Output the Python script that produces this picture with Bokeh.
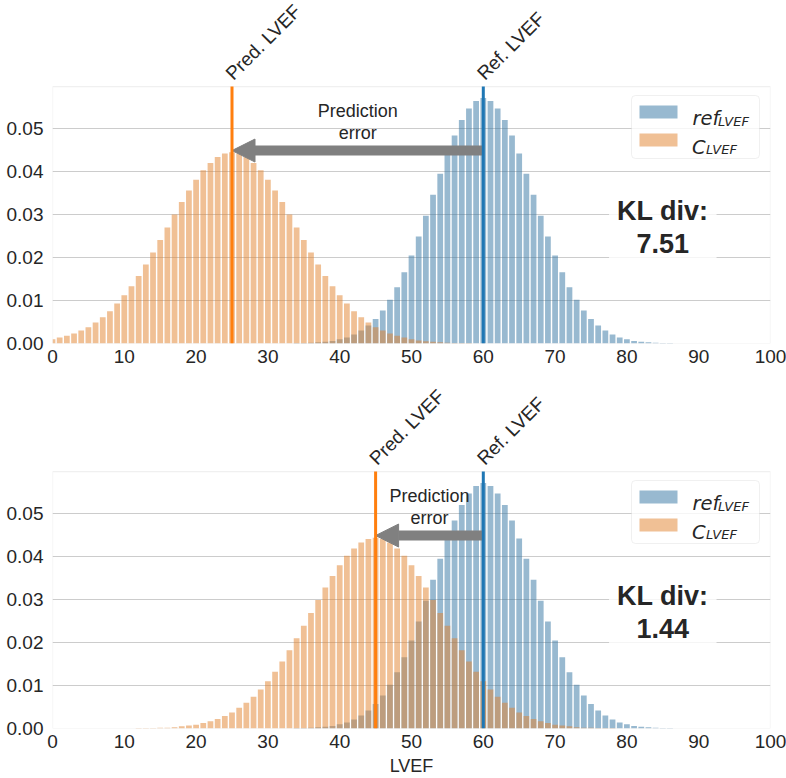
from bokeh.plotting import figure
from bokeh.models import (Range1d, FixedTicker, Arrow, NormalHead, Label,
                          BoxAnnotation, PrintfTickFormatter)
from bokeh.layouts import column
from bokeh.embed import file_html
from bokeh.resources import INLINE

FONT = "Liberation Sans"
MATH_FONT = "DejaVu Sans"
TEXT = "#262626"

# ---------------- data ----------------
lvef = list(range(0, 101))

ref_dist = [0.0] * 34 + [
    0.0001, 0.0001, 0.0002, 0.0003, 0.0004, 0.0006, 0.0010, 0.0014, 0.0021, 0.0030,
    0.0042, 0.0057, 0.0077, 0.0102, 0.0131, 0.0166, 0.0205, 0.0249, 0.0297, 0.0346,
    0.0395, 0.0442, 0.0484, 0.0520, 0.0547, 0.0564, 0.0571,
    0.0564, 0.0547, 0.0520, 0.0484, 0.0442, 0.0395, 0.0346, 0.0297, 0.0249, 0.0205,
    0.0166, 0.0131, 0.0102, 0.0077, 0.0057, 0.0042, 0.0030, 0.0021, 0.0014, 0.0010,
    0.0006, 0.0004, 0.0003, 0.0002, 0.0001, 0.0001,
] + [0.0] * 14

pred_dist_top = [
    0.0010, 0.0014, 0.0018, 0.0023, 0.0030, 0.0038, 0.0049, 0.0061, 0.0075, 0.0093,
    0.0112, 0.0133, 0.0157, 0.0184, 0.0212, 0.0241, 0.0270, 0.0300, 0.0329, 0.0356,
    0.0381, 0.0403, 0.0420, 0.0434, 0.0442, 0.0445,
    0.0442, 0.0434, 0.0420, 0.0403, 0.0381, 0.0356, 0.0329, 0.0300, 0.0270, 0.0241,
    0.0212, 0.0184, 0.0157, 0.0133, 0.0112, 0.0093, 0.0075, 0.0061, 0.0049, 0.0038,
    0.0030, 0.0023, 0.0018, 0.0014, 0.0010,
    0.0007, 0.0005, 0.0004, 0.0003, 0.0002, 0.0001, 0.0001, 0.0001,
] + [0.0] * 42

pred_dist_bottom = [0.0] * 12 + [
    0.0001, 0.0001, 0.0001, 0.0002, 0.0002, 0.0003, 0.0005, 0.0007, 0.0009, 0.0013,
    0.0017, 0.0022, 0.0029, 0.0037, 0.0048, 0.0060, 0.0074, 0.0091, 0.0110, 0.0132,
    0.0156, 0.0182, 0.0210, 0.0239, 0.0269, 0.0299, 0.0328, 0.0355, 0.0380, 0.0402,
    0.0419, 0.0433, 0.0441, 0.0444,
    0.0441, 0.0433, 0.0419, 0.0402, 0.0380, 0.0355, 0.0328, 0.0299, 0.0269, 0.0239,
    0.0210, 0.0182, 0.0156, 0.0132, 0.0110, 0.0091, 0.0074, 0.0060, 0.0048, 0.0037,
    0.0029, 0.0022, 0.0017, 0.0013, 0.0009, 0.0007, 0.0005, 0.0003, 0.0002, 0.0002,
    0.0001, 0.0001, 0.0001,
] + [0.0] * 22

ref_lvef = 60
pred_lvef_top = 25
pred_lvef_bottom = 45
kl_top = "7.51"
kl_bottom = "1.44"
arrow_y = 0.0449
kl_pos = (85, 0.027)

x_ticks = list(range(0, 101, 10))
y_ticks = [0.0, 0.01, 0.02, 0.03, 0.04, 0.05]
X_MIN, X_MAX = 0, 100
Y_MAX = 0.0598

BLUE_BAR = "#3274a1"
ORANGE_BAR = "#e1812c"
BLUE_LINE = "#1f77b4"
ORANGE_LINE = "#ff7f0e"
GREY = "#808080"
SPINE = "#cccccc"

FRAME_W, FRAME_H = 718, 257
BORDER_L, BORDER_R = 52, 16


def dx(px):
    return X_MIN + px * (X_MAX - X_MIN) / FRAME_W


def dy(px_from_top):
    return Y_MAX - px_from_top * Y_MAX / FRAME_H


def make_panel(pred_dist, pred_lvef, kl_text, top_space, bottom_border, xlabel=None):
    # the canvas area above the axes box is part of the (invisible) frame so the
    # rotated marker labels are not clipped; the visible box is drawn explicitly
    y_top = Y_MAX * (FRAME_H + top_space) / FRAME_H
    p = figure(width=786, height=top_space + FRAME_H + bottom_border,
               x_range=Range1d(X_MIN, X_MAX), y_range=Range1d(0, y_top),
               output_backend="svg", toolbar_location=None, title=None,
               min_border_left=BORDER_L, min_border_right=BORDER_R,
               min_border_top=0, min_border_bottom=bottom_border)
    p.outline_line_color = None
    p.background_fill_color = "white"
    p.border_fill_color = "white"
    p.xgrid.visible = False
    p.ygrid.grid_line_color = SPINE
    p.ygrid.grid_line_width = 1

    p.xaxis.ticker = FixedTicker(ticks=x_ticks, minor_ticks=[])
    p.yaxis.ticker = FixedTicker(ticks=y_ticks, minor_ticks=[])
    p.yaxis.formatter = PrintfTickFormatter(format="%.2f")
    for ax in (p.xaxis, p.yaxis):
        ax.axis_line_color = None
        ax.major_tick_line_color = None
        ax.minor_tick_line_color = None
        ax.major_label_text_font = FONT
        ax.major_label_text_font_size = "19px"
        ax.major_label_text_color = TEXT
    p.yaxis.major_label_standoff = 3
    p.xaxis.major_label_standoff = 0
    if xlabel:
        p.xaxis.axis_label = xlabel
        p.xaxis.axis_label_text_font = FONT
        p.xaxis.axis_label_text_font_size = "18px"
        p.xaxis.axis_label_text_font_style = "normal"
        p.xaxis.axis_label_text_color = TEXT
        p.xaxis.axis_label_standoff = 5

    p.vbar(x=lvef, top=ref_dist, width=0.8, fill_color=BLUE_BAR, fill_alpha=0.5, line_color=None)
    p.vbar(x=lvef, top=pred_dist, width=0.8, fill_color=ORANGE_BAR, fill_alpha=0.5, line_color=None)

    # axes box
    p.add_layout(BoxAnnotation(left=X_MIN, right=X_MAX, bottom=0, top=Y_MAX,
                               fill_alpha=0, line_color=SPINE, line_width=1.25))

    p.add_layout(Arrow(end=NormalHead(size=23, fill_color=GREY, line_color=GREY, line_width=1),
                       x_start=ref_lvef, y_start=arrow_y, x_end=pred_lvef, y_end=arrow_y,
                       line_color=GREY, line_width=10))
    for xv, col in ((pred_lvef, ORANGE_LINE), (ref_lvef, BLUE_LINE)):
        p.add_layout(Arrow(end=None, start=None, x_start=xv, y_start=0, x_end=xv, y_end=Y_MAX,
                           line_color=col, line_width=3))

    for xv, txt in ((pred_lvef, "Pred. LVEF"), (ref_lvef, "Ref. LVEF")):
        p.add_layout(Label(x=xv, y=Y_MAX, x_offset=-3, y_offset=10, text=txt,
                           angle=45, angle_units="deg", text_align="left",
                           text_baseline="alphabetic", text_font=FONT,
                           text_font_size="19px", text_color=TEXT))

    p.add_layout(Label(x=(pred_lvef + ref_lvef) / 2, y=arrow_y, y_offset=8,
                       text="Prediction\nerror", text_align="center",
                       text_baseline="bottom", text_font=FONT, text_font_size="18px",
                       text_color=TEXT, text_line_height=1.1))

    p.add_layout(Label(x=kl_pos[0], y=kl_pos[1], text=f"KL div:\n{kl_text}",
                       text_align="center", text_baseline="middle", text_font=FONT,
                       text_font_size="27px", text_font_style="bold", text_color=TEXT,
                       text_line_height=1.1, background_fill_color="white",
                       background_fill_alpha=0.8, padding=8))

    # legend
    p.add_layout(BoxAnnotation(left=dx(579), right=dx(707), top=dy(9), bottom=dy(72),
                               fill_color="white", fill_alpha=0.8, line_color=SPINE,
                               line_width=1, border_radius=4))
    p.add_layout(BoxAnnotation(left=dx(587), right=dx(625), top=dy(19), bottom=dy(32),
                               fill_color=BLUE_BAR, fill_alpha=0.5, line_color=None))
    p.add_layout(BoxAnnotation(left=dx(587), right=dx(625), top=dy(47), bottom=dy(60),
                               fill_color=ORANGE_BAR, fill_alpha=0.5, line_color=None))
    for (xp, yp, txt, size) in ((640.0, 32.3, "ref", "19.5px"), (665.5, 34.9, "LVEF", "13px"),
                                (639.5, 60.7, "C", "19.5px"), (653.5, 63.2, "LVEF", "13px")):
        p.add_layout(Label(x=dx(xp), y=dy(yp), text=txt, text_align="left",
                           text_baseline="alphabetic", text_font=MATH_FONT,
                           text_font_style="italic", text_font_size=size, text_color=TEXT))
    return p


p1 = make_panel(pred_dist_top, pred_lvef_top, kl_top, 86, 43)
p2 = make_panel(pred_dist_bottom, pred_lvef_bottom, kl_bottom, 85, 50, xlabel="LVEF")

layout = column(p1, p2)
open("out.html", "w").write(file_html(layout, INLINE))
